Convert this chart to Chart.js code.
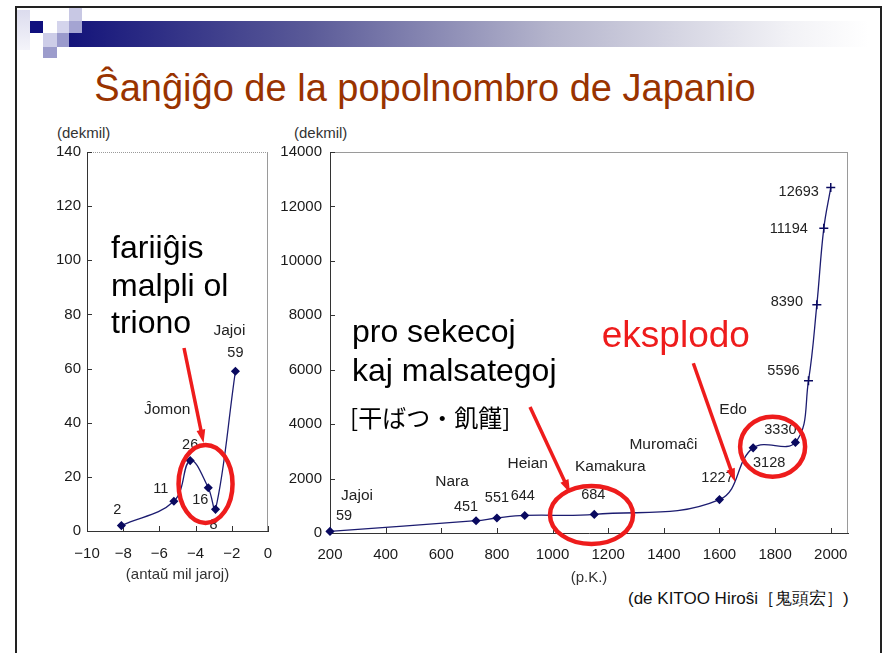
<!DOCTYPE html>
<html>
<head>
<meta charset="utf-8">
<script src="https://cdn.jsdelivr.net/npm/chart.js@4/dist/chart.umd.min.js"></script>
<style>
  body { margin: 0; width: 890px; height: 653px; overflow: hidden; position: relative; background: #fff;
    font-family: 'Liberation Sans', Arial, sans-serif; }
  .frame { position: absolute; left: 15px; top: 6px; width: 863px; height: 700px; border: 2px solid #222; border-bottom: none; }
  .sq { position: absolute; }
  .bar { position: absolute; left: 69px; top: 21px; width: 800px; height: 26px;
    background: linear-gradient(to right, #14147a 0%, #5a5a98 30%, #b4b4cc 60%, #f2f2f6 90%, #fff 100%); }
  .title { position: absolute; left: 0; width: 850px; top: 68px; text-align: center; font-size: 38px; color: #993300; line-height: 40px; }
  .unit { position: absolute; top: 124px; font-size: 15px; color: #333; }
  .source { position: absolute; left: 628px; top: 587px; font-size: 17px; color: #111; }
  canvas { position: absolute; }
</style>
</head>
<body>
<div class="frame"></div>
<div class="bar"></div>
<div class="sq" style="left:17px;top:10px;width:13px;height:40px;background:linear-gradient(#dcdcee,#f4f4fa)"></div>
<div class="sq" style="left:69px;top:8px;width:13px;height:13px;background:#c8c8e4"></div>
<div class="sq" style="left:30px;top:21px;width:13px;height:12px;background:#10107e"></div>
<div class="sq" style="left:57px;top:21px;width:12px;height:12px;background:#d4d4ec"></div>
<div class="sq" style="left:69px;top:21px;width:13px;height:12px;background:#a4a4d2"></div>
<div class="sq" style="left:43px;top:33px;width:14px;height:14px;background:#cdcde8"></div>
<div class="sq" style="left:57px;top:33px;width:12px;height:14px;background:#9a9acc"></div>
<div class="sq" style="left:43px;top:47px;width:14px;height:11px;background:#9c9ccc"></div>
<div class="title">Ŝanĝiĝo de la popolnombro de Japanio</div>
<div class="unit" style="left:57px">(dekmil)</div>
<div class="unit" style="left:294px">(dekmil)</div>
<div class="source">(de KITOO Hiroŝi［鬼頭宏］)</div>
<canvas id="left" width="250" height="450" style="left:30px;top:140px"></canvas>
<canvas id="right" width="600" height="450" style="left:270px;top:140px"></canvas>
<script>
// antaŭ nia erao, mil jaroj / dekmil homoj
const leftYears = [-8.1, -5.2, -4.3, -3.3, -2.9, -1.8]
const leftPop = [2, 11, 26, 16, 8, 59]
const leftPeriods = ['', '', 'Ĵomon', '', '', 'Jajoi']
const leftXTicks = [-10, -8, -6, -4, -2, 0]
const leftYTicks = [0, 20, 40, 60, 80, 100, 120, 140]

// post Kristo / dekmil homoj
const rightYears = [200, 725, 800, 900, 1150, 1600, 1721, 1873, 1920, 1950, 1975, 2000]
const rightPop = [59, 451, 551, 644, 684, 1227, 3128, 3330, 5596, 8390, 11194, 12693]
const rightPeriods = ['Jajoi', 'Nara', '', 'Heian', 'Kamakura', 'Muromaĉi', 'Edo', '', '', '', '', '']
const rightXTicks = [200, 400, 600, 800, 1000, 1200, 1400, 1600, 1800, 2000]
const rightYTicks = [0, 2000, 4000, 6000, 8000, 10000, 12000, 14000]

const FONT = "'Liberation Sans', Arial, sans-serif"
const RED = '#ee1c1c'
const NAVY = '#1c1c70'

// label placement, pixels from the point
const leftValueOff = [[-4, -16], [-13, -12], [0, -16], [-8, 12], [-2, 16], [0, -18]]
const leftPeriodOff = [null, null, [-23, -51], null, null, [-6, -41]]
const rightValueOff = [[14, -15], [-10, -14], [0, -20], [-2, -19], [-1, -19], [-2, -22], [16, 15], [-15, -12],
  [-25, -10], [-30, -3], [-35, 1], [-32, 4]]
const rightPeriodOff = [[27, -36], [-24, -39], null, [3, -52], [16, -48], [-56, -55], [-20, -38], null, null, null, null, null]

const overlay = {
  id: 'overlay',
  beforeDatasetsDraw(chart, args, opts) {
    const { ctx, chartArea: a, scales: { x, y } } = chart
    ctx.save()
    ctx.lineWidth = 1
    ctx.strokeStyle = '#9a9a9a'
    if (opts.dottedTop) ctx.setLineDash([1, 1])
    ctx.beginPath(); ctx.moveTo(a.left, a.top + 0.5); ctx.lineTo(a.right, a.top + 0.5); ctx.stroke()
    ctx.setLineDash([])
    ctx.beginPath(); ctx.moveTo(a.right - 0.5, a.top); ctx.lineTo(a.right - 0.5, a.bottom); ctx.stroke()
    ctx.strokeStyle = '#333'
    ctx.beginPath()
    x.ticks.forEach(t => {
      const px = Math.round(x.getPixelForValue(t.value)) + 0.5
      ctx.moveTo(px, a.bottom); ctx.lineTo(px, a.bottom - 5)
    })
    y.ticks.forEach(t => {
      const py = Math.round(y.getPixelForValue(t.value)) + 0.5
      ctx.moveTo(a.left, py); ctx.lineTo(a.left + 5, py)
    })
    ctx.stroke()
    ctx.restore()
  },
  afterDatasetsDraw(chart, args, opts) {
    const { ctx, scales: { x, y } } = chart
    const pts = chart.getDatasetMeta(0).data
    const ds = chart.data.datasets[0]
    ctx.save()
    ctx.textAlign = 'center'
    ctx.textBaseline = 'middle'
    ctx.fillStyle = '#222'
    ctx.font = '14.5px ' + FONT
    ds.data.forEach((d, i) => {
      const o = opts.valueOff[i]
      ctx.fillText(String(d.y), pts[i].x + o[0], pts[i].y + o[1])
    })
    ctx.font = '15.5px ' + FONT
    opts.periods.forEach((name, i) => {
      const o = opts.periodOff[i]
      if (!name || !o) return
      ctx.fillText(name, pts[i].x + o[0], pts[i].y + o[1])
    })
    // notes
    ctx.textAlign = 'left'
    opts.notes.forEach(n => {
      ctx.font = n.font
      ctx.fillStyle = n.color
      ctx.textBaseline = n.baseline || 'alphabetic'
      n.lines.forEach((line, k) => {
        ctx.fillText(line, x.getPixelForValue(n.x), y.getPixelForValue(n.y) + k * n.step)
      })
    })
    // arrows
    ctx.strokeStyle = RED
    ctx.fillStyle = RED
    ctx.lineWidth = 3.5
    opts.arrows.forEach(ar => {
      const x0 = x.getPixelForValue(ar[0]), y0 = y.getPixelForValue(ar[1])
      const x1 = x.getPixelForValue(ar[2]), y1 = y.getPixelForValue(ar[3])
      const ang = Math.atan2(y1 - y0, x1 - x0)
      ctx.beginPath(); ctx.moveTo(x0, y0)
      ctx.lineTo(x1 - 8 * Math.cos(ang), y1 - 8 * Math.sin(ang)); ctx.stroke()
      ctx.beginPath()
      ctx.moveTo(x1, y1)
      ctx.lineTo(x1 - 14 * Math.cos(ang - 0.32), y1 - 14 * Math.sin(ang - 0.32))
      ctx.lineTo(x1 - 14 * Math.cos(ang + 0.32), y1 - 14 * Math.sin(ang + 0.32))
      ctx.closePath(); ctx.fill()
    })
    ctx.lineWidth = 4.5
    opts.rings.forEach(r => {
      ctx.beginPath()
      ctx.ellipse(x.getPixelForValue(r[0]), y.getPixelForValue(r[1]), r[2], r[3], 0, 0, Math.PI * 2)
      ctx.stroke()
    })
    ctx.restore()
  }
}

function fixedTicks(list) {
  return scale => { scale.ticks = list.map(v => ({ value: v })) }
}

function makeChart(id, cfg) {
  return new Chart(document.getElementById(id), {
    type: 'line',
    data: {
      datasets: [{
        data: cfg.xs.map((v, i) => ({ x: v, y: cfg.ys[i] })),
        borderColor: NAVY,
        borderWidth: 1.3,
        tension: 0.4,
        pointStyle: cfg.pointStyle,
        pointRadius: cfg.pointRadius,
        pointBackgroundColor: '#0a0a60',
        pointBorderColor: '#0a0a60',
        pointBorderWidth: 1.5,
        clip: false
      }]
    },
    options: {
      responsive: false,
      animation: false,
      events: [],
      layout: { padding: { left: 0, top: 12, right: cfg.padRight, bottom: 0 } },
      plugins: {
        legend: { display: false },
        tooltip: { enabled: false },
        overlay: cfg.overlay
      },
      scales: {
        x: {
          type: 'linear',
          min: cfg.xMin, max: cfg.xMax,
          afterBuildTicks: fixedTicks(cfg.xTicks),
          afterFit: s => { s.height = cfg.xHeight; s.paddingLeft = 0; s.paddingRight = 0 },
          grid: { display: false, drawTicks: false },
          border: { display: true, color: '#333', width: 1 },
          ticks: {
            padding: cfg.xPad, color: '#1a1a1a', font: { family: FONT, size: 15 },
            maxRotation: 0, autoSkip: false,
            callback: v => String(v).replace('-', '−')
          },
          title: { display: true, text: cfg.xTitle, color: '#333', font: { family: FONT, size: 15 },
            padding: { top: 0, bottom: cfg.titlePad } }
        },
        y: {
          min: 0, max: cfg.yMax,
          afterBuildTicks: fixedTicks(cfg.yTicks),
          afterFit: s => { s.width = cfg.yWidth; s.paddingTop = 0; s.paddingBottom = 0 },
          grid: { display: false, drawTicks: false },
          border: { display: true, color: '#333', width: 1 },
          ticks: { padding: cfg.yPad, color: '#1a1a1a', font: { family: FONT, size: 15 }, autoSkip: false,
            callback: v => String(v) }
        }
      }
    },
    plugins: [overlay]
  })
}

makeChart('left', {
  xs: leftYears, ys: leftPop,
  pointStyle: 'rectRot', pointRadius: 3.5,
  padRight: 12, xMin: -10, xMax: 0, yMax: 140,
  xTicks: leftXTicks, yTicks: leftYTicks,
  xHeight: 59, yWidth: 57, xPad: 14, yPad: 6, titlePad: 6,
  xTitle: '(antaŭ mil jaroj)',
  overlay: {
    dottedTop: true,
    valueOff: leftValueOff, periods: leftPeriods, periodOff: leftPeriodOff,
    notes: [
      { lines: ['fariiĝis', 'malpli ol', 'triono'], x: -8.67, y: 100.8, step: 37.5, font: '32px ' + FONT, color: '#000' }
    ],
    arrows: [[-4.64, 67.6, -3.56, 32.5]],
    rings: [[-3.45, 17.4, 27, 39]]
  }
})

makeChart('right', {
  xs: rightYears, ys: rightPop,
  pointStyle: rightYears.map((v, i) => i < 8 ? 'rectRot' : 'cross'),
  pointRadius: rightYears.map((v, i) => i < 8 ? 3.5 : 4.5),
  padRight: 22, xMin: 200, xMax: 2062, yMax: 14000,
  xTicks: rightXTicks, yTicks: rightYTicks,
  xHeight: 57, yWidth: 60, xPad: 12.5, yPad: 8, titlePad: 3,
  xTitle: '(p.K.)',
  overlay: {
    dottedTop: false,
    valueOff: rightValueOff, periods: rightPeriods, periodOff: rightPeriodOff,
    notes: [
      { lines: ['pro sekecoj', 'kaj malsategoj'], x: 279, y: 7019, step: 39.5, font: '32px ' + FONT, color: '#000' },
      { lines: ['[干ばつ・飢饉]'], x: 272, y: 4226, step: 0, baseline: 'middle', font: "24px 'Noto Sans CJK JP'", color: '#000' },
      { lines: ['eksplodo'], x: 1177, y: 6847, step: 0, font: '37px ' + FONT, color: RED }
    ],
    arrows: [[919, 4631, 1063, 1470], [1506, 6237, 1656, 1885]],
    rings: [[1140, 662, 41.5, 29], [1791, 3172, 32.5, 30]]
  }
})
</script>
</body>
</html>
